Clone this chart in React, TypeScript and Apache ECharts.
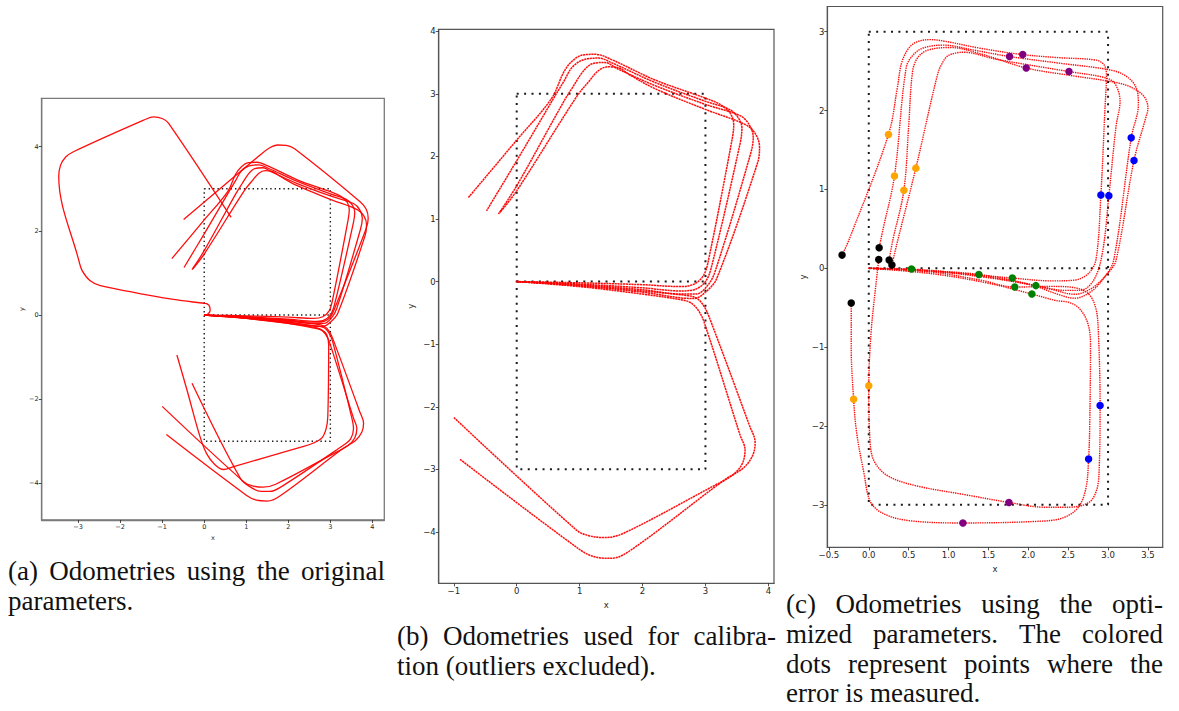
import React, { useEffect, useRef } from "react";
import * as echarts from "echarts";

type Pt = [number, number];

// Reference course: 3 m x 6 m rectangle with its middle line
const courseFrame: Pt[] = [[0, 3], [3, 3], [3, -3], [0, -3], [0, 3]];
const courseMid: Pt[] = [[0, 0], [3, 0]];

// Runs with the original parameters that are kept for calibration
const runUp1: Pt[] = [[0, 0], [1.0, -0.02], [2.0, -0.05], [2.6, -0.08], [2.82, -0.04], [2.97, 0.1], [3.05, 0.35], [3.42, 2.25], [3.45, 2.5], [3.4, 2.68], [3.25, 2.82], [3.0, 2.93], [2.2, 3.22], [1.5, 3.55], [1.25, 3.63], [1.05, 3.62], [0.88, 3.52], [0.75, 3.35], [0.55, 2.92], [0.0, 2.26], [-0.77, 1.34]];
const runUp2: Pt[] = [[0, 0], [1.0, -0.04], [2.0, -0.1], [2.6, -0.15], [2.82, -0.13], [3.0, 0.0], [3.1, 0.25], [3.55, 2.2], [3.58, 2.45], [3.52, 2.62], [3.38, 2.75], [3.0, 2.88], [2.2, 3.18], [1.5, 3.5], [1.3, 3.57], [1.05, 3.54], [0.88, 3.42], [0.75, 3.2], [0.6, 2.95], [0.0, 1.93], [-0.48, 1.13]];
const runUp3: Pt[] = [[0, 0], [1.0, -0.05], [2.0, -0.13], [2.6, -0.2], [2.85, -0.2], [3.02, -0.08], [3.15, 0.15], [3.72, 2.05], [3.76, 2.3], [3.7, 2.5], [3.55, 2.65], [3.0, 2.83], [2.2, 3.13], [1.6, 3.4], [1.4, 3.5], [1.2, 3.48], [1.05, 3.35], [0.9, 3.12], [0.75, 2.88], [0.0, 1.53], [-0.29, 1.08]];
const runUp4: Pt[] = [[0, 0], [1.0, -0.07], [2.0, -0.17], [2.6, -0.26], [2.82, -0.27], [3.0, -0.17], [3.18, 0.05], [3.83, 1.9], [3.86, 2.15], [3.8, 2.35], [3.65, 2.5], [3.0, 2.75], [2.2, 3.08], [1.8, 3.3], [1.6, 3.42], [1.45, 3.43], [1.3, 3.37], [1.15, 3.2], [0.95, 2.95], [0.0, 1.45], [-0.27, 1.1]];
const runDown1: Pt[] = [[0, 0], [1.0, -0.06], [2.0, -0.15], [2.6, -0.21], [2.85, -0.26], [2.98, -0.4], [3.08, -0.62], [3.7, -2.3], [3.79, -2.57], [3.75, -2.78], [3.6, -2.98], [3.3, -3.17], [1.8, -4.3], [1.5, -4.42], [1.25, -4.4], [1.0, -4.28], [-0.9, -2.84]];
const runDown2: Pt[] = [[0, 0], [1.0, -0.08], [2.0, -0.2], [2.55, -0.28], [2.75, -0.33], [2.88, -0.45], [2.98, -0.65], [3.55, -2.45], [3.63, -2.69], [3.58, -2.92], [3.42, -3.1], [3.1, -3.28], [1.7, -4.02], [1.4, -4.09], [1.15, -4.06], [0.95, -3.97], [-1.0, -2.17]];

// Runs with the original parameters that were left out (outliers)
const outlierHook: Pt[] = [[0, 0], [0.08, 0.02], [0.14, 0.1], [0.13, 0.2], [0.06, 0.27], [0.0, 0.28], [-0.73, 0.37], [-2.47, 0.7], [-2.72, 0.82], [-2.9, 1.05], [-2.97, 1.25], [-3.46, 3.29], [-3.42, 3.55], [-3.3, 3.75], [-3.11, 3.88], [-1.44, 4.63], [-1.2, 4.71], [-1.0, 4.67], [-0.85, 4.56], [0.64, 2.32]];
const outlierUp: Pt[] = [[0, 0], [1.0, -0.05], [2.0, -0.12], [2.6, -0.17], [2.85, -0.15], [3.0, -0.05], [3.12, 0.2], [3.85, 2.05], [3.9, 2.3], [3.85, 2.52], [3.7, 2.7], [2.15, 3.95], [1.95, 4.03], [1.75, 4.04], [1.55, 3.97], [1.35, 3.82], [-0.49, 2.27]];
const outlierDownInner: Pt[] = [[0, 0], [1.0, -0.08], [2.0, -0.2], [2.55, -0.3], [2.8, -0.36], [2.92, -0.48], [2.96, -0.7], [2.94, -2.4], [2.9, -2.7], [2.8, -2.92], [2.6, -3.04], [2.3, -3.14], [0.7, -3.6], [0.46, -3.67], [0.25, -3.55], [0.06, -3.3], [-0.1, -2.89], [-0.41, -1.78], [-0.65, -0.95]];
const outlierDownMid: Pt[] = [[0, 0], [1.0, -0.07], [2.0, -0.18], [2.6, -0.25], [2.85, -0.3], [2.98, -0.45], [3.06, -0.65], [3.5, -2.4], [3.55, -2.7], [3.48, -2.95], [3.3, -3.1], [1.8, -4.1], [1.55, -4.19], [1.35, -4.19], [1.12, -4.1], [0.86, -3.88], [-0.29, -1.62]];

// Runs with the optimized parameters
const optUp1: Pt[] = [[0, 0], [0.6, -0.02], [1.2, -0.07], [1.8, -0.124], [2.3, -0.16], [2.58, -0.15], [2.76, -0.06], [2.85, 0.12], [2.91, 0.93], [2.96, 2.0], [2.98, 2.45], [2.95, 2.58], [2.85, 2.64], [2.4, 2.67], [1.93, 2.71], [1.4, 2.79], [0.95, 2.88], [0.77, 2.9], [0.6, 2.87], [0.5, 2.79], [0.41, 2.6], [0.36, 2.3], [0.247, 1.697], [-0.24, 0.38], [-0.335, 0.167]];
const optUp2: Pt[] = [[0, 0], [0.8, -0.04], [1.5, -0.12], [2.095, -0.22], [2.45, -0.28], [2.65, -0.28], [2.82, -0.15], [2.93, 0.2], [3.01, 0.92], [3.1, 1.8], [3.15, 2.12], [3.08, 2.35], [2.95, 2.42], [2.51, 2.495], [1.6, 2.65], [1.19, 2.74], [1.0, 2.7], [0.92, 2.6], [0.86, 2.45], [0.59, 1.27], [0.35, 0.3], [0.29, 0.04]];
const optUp3: Pt[] = [[0, 0], [0.7, -0.03], [1.38, -0.078], [2.0, -0.2], [2.4, -0.34], [2.58, -0.38], [2.78, -0.3], [2.95, -0.12], [3.07, 0.1], [3.29, 1.654], [3.38, 2.08], [3.36, 2.27], [3.25, 2.42], [3.05, 2.51], [2.4, 2.6], [1.765, 2.685], [1.3, 2.77], [0.94, 2.83], [0.7, 2.8], [0.57, 2.72], [0.47, 2.55], [0.322, 1.17], [0.18, 0.5], [0.13, 0.26]];
const optUp4: Pt[] = [[0, 0], [0.535, -0.01], [1.2, -0.07], [1.8, -0.16], [2.3, -0.27], [2.58, -0.33], [2.8, -0.25], [3.0, -0.06], [3.1, 0.1], [3.325, 1.367], [3.47, 1.9], [3.5, 2.03], [3.45, 2.18], [3.28, 2.3], [3.08, 2.36], [2.5, 2.45], [1.974, 2.54], [1.4, 2.72], [1.02, 2.8], [0.75, 2.77], [0.62, 2.68], [0.55, 2.5], [0.5, 1.8], [0.44, 0.99], [0.3, 0.35], [0.255, 0.105]];
const optDown1: Pt[] = [[0, 0], [0.8, -0.05], [1.4, -0.15], [1.83, -0.238], [2.3, -0.23], [2.6, -0.25], [2.76, -0.33], [2.85, -0.52], [2.88, -0.85], [2.9, -1.74], [2.89, -2.5], [2.86, -2.8], [2.76, -2.97], [2.5, -3.03], [2.2, -3.03], [1.757, -2.97], [1.2, -2.87], [0.6, -2.76], [0.25, -2.64], [0.08, -2.47], [0.02, -2.25], [0.0, -1.49], [0.03, -0.8], [0.09, -0.2], [0.125, 0.11]];
const optDown2: Pt[] = [[0, 0], [0.8, -0.07], [1.5, -0.19], [2.045, -0.327], [2.35, -0.41], [2.5, -0.43], [2.63, -0.5], [2.74, -0.68], [2.78, -0.95], [2.77, -2.0], [2.756, -2.42], [2.72, -2.8], [2.62, -3.04], [2.42, -3.17], [2.1, -3.21], [1.18, -3.23], [0.5, -3.2], [0.18, -3.11], [0.02, -2.96], [-0.06, -2.6], [-0.15, -2.1], [-0.19, -1.66], [-0.22, -1.0], [-0.22, -0.44]];

// Points where the error is measured
const endPts: Pt[] = [[0.13, 0.26], [0.125, 0.11], [0.255, 0.105], [0.29, 0.04], [-0.335, 0.167], [-0.22, -0.44]];
const leftPts: Pt[] = [[0.247, 1.697], [0.322, 1.17], [0.44, 0.99], [0.59, 1.27], [0.0, -1.49], [-0.19, -1.66]];
const topPts: Pt[] = [[1.765, 2.685], [1.93, 2.71], [1.974, 2.54], [2.51, 2.495], [1.757, -2.97], [1.18, -3.23]];
const rightPts: Pt[] = [[2.91, 0.93], [3.01, 0.92], [3.29, 1.654], [3.325, 1.367], [2.9, -1.74], [2.756, -2.42]];
const middlePts: Pt[] = [[0.535, -0.01], [1.38, -0.078], [1.8, -0.124], [1.83, -0.238], [2.095, -0.22], [2.045, -0.327]];

// Tick values of the three panels
const ticksAx = [-3, -2, -1, 0, 1, 2, 3, 4];
const ticksAy = [-4, -2, 0, 2, 4];
const ticksBx = [-1, 0, 1, 2, 3, 4];
const ticksBy = [-4, -3, -2, -1, 0, 1, 2, 3, 4];
const ticksCx = [-0.5, 0, 0.5, 1, 1.5, 2, 2.5, 3, 3.5];
const ticksCy = [-3, -2, -1, 0, 1, 2, 3];

const captionA = ["(a) Odometries using the original", "parameters."];
const captionB = ["(b) Odometries used for calibra-", "tion (outliers excluded)."];
const captionC = [
  "(c) Odometries using the opti-",
  "mized parameters. The colored",
  "dots represent points where the",
  "error is measured.",
];

const MINUS = "\u2212";
const fmtInt = (v: number) => (v < 0 ? MINUS : "") + String(Math.abs(Math.round(v)));
const fmtOne = (v: number) => (v < 0 ? MINUS : "") + Math.abs(v).toFixed(1);

const TEXT = "#262626";
const SANS = "DejaVu Sans";
const CAPTION_FS = 27;
const CAPTION_FONT = `${CAPTION_FS}px "Liberation Serif", serif`;

interface PanelCfg {
  rect: { left: number; top: number; width: number; height: number };
  x: [number, number];
  y: [number, number];
  xt: number[];
  yt: number[];
  fmtX: (v: number) => string;
  fmtY: (v: number) => string;
  fs: number;
  xGap: number;
  yGap: number;
  frame: string;
  frameW: number;
}

const panels: PanelCfg[] = [
  {
    rect: { left: 41.7, top: 98.3, width: 342.6, height: 421.7 },
    x: [-3.865, 4.283], y: [-4.87, 5.15], xt: ticksAx, yt: ticksAy,
    fmtX: fmtInt, fmtY: fmtInt, fs: 6.5, xGap: 12, yGap: 15, frame: "#7a7a7a", frameW: 1.3,
  },
  {
    rect: { left: 438.7, top: 29.3, width: 335.3, height: 554 },
    x: [-1.24, 4.09], y: [-4.82, 4.03], xt: ticksBx, yt: ticksBy,
    fmtX: fmtInt, fmtY: fmtInt, fs: 8.5, xGap: 17, yGap: 23, frame: "#555555", frameW: 1.2,
  },
  {
    rect: { left: 827.3, top: 6.5, width: 335.4, height: 540.9 },
    x: [-0.52, 3.685], y: [-3.54, 3.32], xt: ticksCx, yt: ticksCy,
    fmtX: fmtOne, fmtY: fmtInt, fs: 8.5, xGap: 17, yGap: 20, frame: "#555555", frameW: 1.2,
  },
];

function measureWidth(text: string, font: string): number {
  const c = document.createElement("canvas");
  const ctx = c.getContext("2d")!;
  ctx.font = font;
  return ctx.measureText(text).width;
}

// Caption paragraph: every line justified to the column width except the last
function captionElements(lines: string[], x: number, width: number, ys: number[]) {
  const els: any[] = [];
  const textStyle = (text: string) => ({
    text,
    font: CAPTION_FONT,
    fill: "#111111",
    align: "left",
    verticalAlign: "middle",
  });
  lines.forEach((line, i) => {
    const y = ys[i];
    if (i === lines.length - 1) {
      els.push({ type: "text", x, y, silent: true, style: textStyle(line) });
      return;
    }
    const words = line.split(" ");
    const widths = words.map((w) => measureWidth(w, CAPTION_FONT));
    const total = widths.reduce((a, b) => a + b, 0);
    const gap = (width - total) / (words.length - 1);
    let cx = x;
    words.forEach((w, k) => {
      els.push({ type: "text", x: cx, y, silent: true, style: textStyle(w) });
      cx += widths[k] + gap;
    });
  });
  return els;
}

export default function App() {
  const ref = useRef<HTMLDivElement>(null);

  useEffect(() => {
    if (!ref.current) return;
    const chart = echarts.init(ref.current, null, { renderer: "svg" });

    const grids = panels.map((p) => ({
      ...p.rect,
      show: true,
      borderColor: p.frame,
      borderWidth: p.frameW,
      backgroundColor: "#ffffff",
      containLabel: false,
      outerBoundsMode: "none",
    }));

    const xAxes = panels.map((p, i) => ({
      type: "value",
      gridIndex: i,
      min: p.x[0],
      max: p.x[1],
      name: "x",
      nameLocation: "middle",
      nameGap: p.xGap,
      nameTextStyle: { fontSize: p.fs, color: TEXT, fontFamily: SANS },
      axisLine: { show: true, onZero: false, lineStyle: { color: p.frame, width: p.frameW } },
      axisTick: { show: true, inside: false, length: 3, customValues: p.xt, lineStyle: { color: TEXT, width: 0.8 } },
      axisLabel: { show: true, customValues: p.xt, formatter: p.fmtX, fontSize: p.fs, color: TEXT, fontFamily: SANS, margin: 3 },
      splitLine: { show: false },
    }));

    const yAxes = panels.map((p, i) => ({
      type: "value",
      gridIndex: i,
      min: p.y[0],
      max: p.y[1],
      name: "y",
      nameLocation: "middle",
      nameGap: p.yGap,
      nameRotate: 90,
      nameTextStyle: { fontSize: p.fs, color: TEXT, fontFamily: SANS },
      axisLine: { show: true, onZero: false, lineStyle: { color: p.frame, width: p.frameW } },
      axisTick: { show: true, inside: false, length: 3, customValues: p.yt, lineStyle: { color: TEXT, width: 0.8 } },
      axisLabel: { show: true, customValues: p.yt, formatter: p.fmtY, fontSize: p.fs, color: TEXT, fontFamily: SANS, margin: 3 },
      splitLine: { show: false },
    }));

    const dashA = [1.4, 3];
    const dashBC = [2, 5.4];
    const courseSeries = (i: number, dash: number[], w: number) =>
      [courseFrame, courseMid].map((d) => ({
        type: "line",
        xAxisIndex: i,
        yAxisIndex: i,
        data: d,
        showSymbol: false,
        symbol: "none",
        silent: true,
        z: 2,
        lineStyle: { color: "#1a1a1a", width: w, type: dash, cap: "butt" },
      }));

    const runSeries = (i: number, runs: Pt[][], width: number, type: any) =>
      runs.map((d) => ({
        type: "line",
        xAxisIndex: i,
        yAxisIndex: i,
        data: d,
        showSymbol: false,
        symbol: "none",
        smooth: 0.35,
        silent: true,
        z: 3,
        lineStyle: { color: "#ff0000", width, type, opacity: 0.95 },
      }));

    const dotSeries = (pts: Pt[], color: string) => ({
      type: "scatter",
      xAxisIndex: 2,
      yAxisIndex: 2,
      data: pts,
      symbol: "circle",
      symbolSize: 7.5,
      silent: true,
      z: 5,
      itemStyle: { color, opacity: 1 },
    });

    const calibRuns = [runUp1, runUp2, runUp3, runUp4, runDown1, runDown2];
    const allOriginal = [outlierHook, outlierUp, ...calibRuns, outlierDownInner, outlierDownMid];
    const optRuns = [optUp1, optUp2, optUp3, optUp4, optDown1, optDown2];

    const graphics = [
      ...captionElements(captionA, 8, 377, [571, 601]),
      ...captionElements(captionB, 397, 379, [636, 666]),
      ...captionElements(captionC, 786, 377, [604, 634, 664, 693]),
    ];

    chart.setOption({
      animation: false,
      backgroundColor: "#ffffff",
      grid: grids,
      xAxis: xAxes,
      yAxis: yAxes,
      series: [
        ...courseSeries(0, dashA, 1.4),
        ...courseSeries(1, dashBC, 2),
        ...courseSeries(2, dashBC, 2),
        ...runSeries(0, allOriginal, 1.3, "solid"),
        ...runSeries(1, calibRuns, 1.5, [2.2, 0.6]),
        ...runSeries(2, optRuns, 1.4, [1.4, 0.9]),
        dotSeries(endPts, "#000000"),
        dotSeries(leftPts, "#ffa500"),
        dotSeries(topPts, "#800080"),
        dotSeries(rightPts, "#0000ff"),
        dotSeries(middlePts, "#008000"),
      ],
      graphic: graphics,
    });

    return () => chart.dispose();
  }, []);

  return (
    <div
      ref={ref}
      style={{ position: "fixed", left: 0, top: 0, width: 1179, height: 711, background: "#fff" }}
    />
  );
}
